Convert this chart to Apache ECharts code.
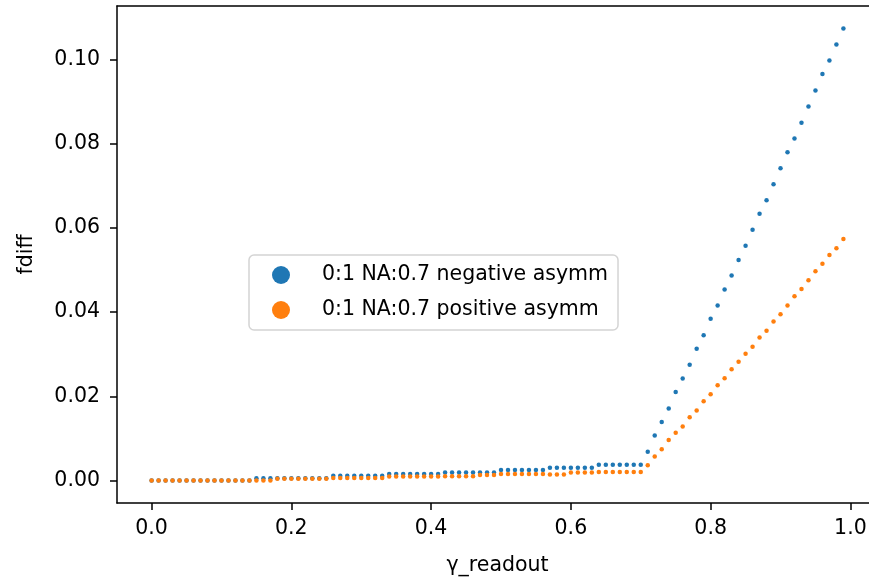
<!DOCTYPE html>
<html>
<head>
<meta charset="utf-8">
<script src="https://cdn.jsdelivr.net/npm/echarts@6/dist/echarts.min.js"></script>
<style>
html,body{margin:0;padding:0;background:#fff;overflow:hidden;}
#chart{width:869px;height:581px;}
</style>
</head>
<body>
<div id="chart"></div>
<script>
const xValues = [0.00,0.01,0.02,0.03,0.04,0.05,0.06,0.07,0.08,0.09,
0.10,0.11,0.12,0.13,0.14,0.15,0.16,0.17,0.18,0.19,
0.20,0.21,0.22,0.23,0.24,0.25,0.26,0.27,0.28,0.29,
0.30,0.31,0.32,0.33,0.34,0.35,0.36,0.37,0.38,0.39,
0.40,0.41,0.42,0.43,0.44,0.45,0.46,0.47,0.48,0.49,
0.50,0.51,0.52,0.53,0.54,0.55,0.56,0.57,0.58,0.59,
0.60,0.61,0.62,0.63,0.64,0.65,0.66,0.67,0.68,0.69,
0.70,0.71,0.72,0.73,0.74,0.75,0.76,0.77,0.78,0.79,
0.80,0.81,0.82,0.83,0.84,0.85,0.86,0.87,0.88,0.89,
0.90,0.91,0.92,0.93,0.94,0.95,0.96,0.97,0.98,0.99];

const negativeAsymm = [0,0,0,0,0,0,0,0,0,0,
0,0,0,0,0,0.0005,0.0005,0.0005,0.0005,0.0005,
0.0005,0.0005,0.0005,0.0005,0.0005,0.0005,0.0011,0.0011,0.0011,0.0011,
0.0011,0.0011,0.0011,0.0011,0.0015,0.0015,0.0015,0.0015,0.0015,0.0015,
0.0015,0.0015,0.0019,0.0019,0.0019,0.0019,0.0019,0.0019,0.0019,0.0019,
0.0025,0.0025,0.0025,0.0025,0.0025,0.0025,0.0025,0.0030,0.0030,0.0030,
0.0030,0.0030,0.0030,0.0030,0.0037,0.0037,0.0037,0.0037,0.0037,0.0037,
0.0037,0.0068,0.0107,0.0139,0.0171,0.0210,0.0242,0.0275,0.0313,0.0345,
0.0384,0.0416,0.0454,0.0487,0.0524,0.0558,0.0596,0.0634,0.0666,0.0704,
0.0742,0.0780,0.0813,0.0850,0.0889,0.0927,0.0966,0.0998,0.1036,0.1074];

const positiveAsymm = [0,0,0,0,0,0,0,0,0,0,
0,0,0,0,0,0,0,0,0.0004,0.0004,
0.0004,0.0004,0.0004,0.0004,0.0004,0.0004,0.0006,0.0006,0.0006,0.0006,
0.0006,0.0006,0.0006,0.0006,0.0009,0.0009,0.0009,0.0009,0.0009,0.0009,
0.0009,0.0009,0.0010,0.0010,0.0010,0.0010,0.0010,0.0013,0.0013,0.0013,
0.0015,0.0015,0.0015,0.0015,0.0015,0.0015,0.0015,0.0014,0.0014,0.0014,
0.0019,0.0019,0.0019,0.0019,0.0020,0.0020,0.0020,0.0020,0.0020,0.0020,
0.0020,0.0036,0.0057,0.0074,0.0096,0.0113,0.0128,0.0150,0.0166,0.0188,
0.0205,0.0226,0.0243,0.0264,0.0282,0.0301,0.0318,0.0340,0.0356,0.0378,
0.0395,0.0416,0.0438,0.0455,0.0476,0.0497,0.0515,0.0536,0.0552,0.0574];

const seriesNames = ['0:1 NA:0.7 negative asymm', '0:1 NA:0.7 positive asymm'];
const xTicks = [0.0, 0.2, 0.4, 0.6, 0.8, 1.0];
const yTicks = [0.00, 0.02, 0.04, 0.06, 0.08, 0.10];

const FONT = 'DejaVu Sans';
const chart = echarts.init(document.getElementById('chart'), null, {renderer: 'canvas'});

function pairs(ys) { return xValues.map((x, i) => [x, ys[i]]); }

const spine = {show: true, onZero: false, lineStyle: {color: '#000', width: 1.5}};

chart.setOption({
  animation: false,
  backgroundColor: '#ffffff',
  grid: {
    left: 117, top: 6, right: -9, bottom: 78,
    outerBoundsMode: 'none', containLabel: false, show: false
  },
  xAxis: [{
    type: 'value', min: -0.0495, max: 1.0395, position: 'bottom',
    name: 'γ_readout', nameLocation: 'middle', nameGap: 52,
    nameTextStyle: {fontFamily: FONT, fontSize: 20.5, color: '#000'},
    axisLine: spine,
    splitLine: {show: false},
    axisTick: {show: true, length: 7, lineStyle: {color: '#000', width: 1.5}, customValues: xTicks},
    axisLabel: {fontFamily: FONT, fontSize: 20.5, color: '#000', margin: 15,
      customValues: xTicks, formatter: v => v.toFixed(1)}
  }, {
    type: 'value', min: -0.0495, max: 1.0395, position: 'top',
    axisLine: spine, axisTick: {show: false}, axisLabel: {show: false}, splitLine: {show: false}
  }],
  yAxis: {
    type: 'value', min: -0.00537, max: 0.11277,
    name: 'fdiff', nameLocation: 'middle', nameGap: 80,
    nameTextStyle: {fontFamily: FONT, fontSize: 20.5, color: '#000'},
    axisLine: spine,
    splitLine: {show: false},
    axisTick: {show: true, length: 7, lineStyle: {color: '#000', width: 1.5}, customValues: yTicks},
    axisLabel: {fontFamily: FONT, fontSize: 20.5, color: '#000', margin: 17,
      customValues: yTicks, formatter: v => v.toFixed(2)}
  },
  legend: {
    orient: 'vertical', left: 249, top: 255,
    padding: [8, 10, 8, 23],
    itemGap: 11, itemWidth: 18, itemHeight: 18,
    icon: 'circle',
    backgroundColor: 'rgba(255,255,255,0.8)',
    borderColor: '#d4d4d4', borderWidth: 1.5, borderRadius: 5,
    textStyle: {fontFamily: FONT, fontSize: 20.5, color: '#000', padding: [0, 0, 0, 27], lineHeight: 24},
    data: seriesNames
  },
  series: [
    {name: seriesNames[0], type: 'scatter', data: pairs(negativeAsymm), symbol: 'circle', symbolSize: 4.5,
      itemStyle: {color: '#1f77b4', opacity: 1}},
    {name: seriesNames[1], type: 'scatter', data: pairs(positiveAsymm), symbol: 'circle', symbolSize: 4.5,
      itemStyle: {color: '#ff7f0e', opacity: 1}}
  ]
});
</script>
</body>
</html>
